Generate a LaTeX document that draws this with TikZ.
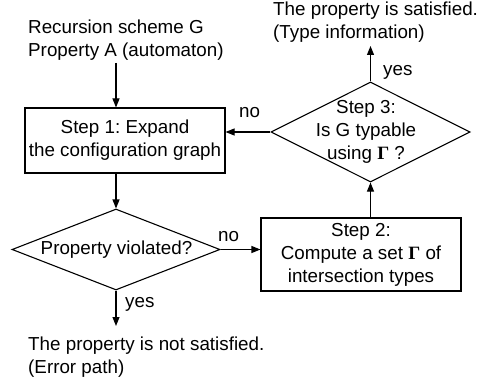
\documentclass[tikz,border=0pt]{standalone}
\usepackage{fontspec}
\setmainfont{Liberation Sans}
\newfontfamily\serifg{Liberation Serif}
\usetikzlibrary{shapes.geometric,arrows.meta}
\newcommand{\G}{{\serifg\bfseries Γ}}
\frenchspacing
\begin{document}
\begin{tikzpicture}[x=1pt,y=-1pt,
  every node/.style={font=\fontsize{18.8}{23}\selectfont},
  stepbox/.style={draw,line width=1.1pt,rectangle,inner sep=0pt,align=center},
  decision/.style={draw,line width=1.1pt,diamond,inner sep=0pt},
  txt/.style={align=left,inner sep=0pt},
  lab/.style={inner sep=0pt},
  conn/.style={line width=1.1pt,-{Triangle[length=9pt,width=7pt]}}]
\useasboundingbox (0,0) rectangle (479,385);
\node[txt,anchor=west] (in) at (28,40.5) {Recursion scheme G\\Property A (automaton)};
\node[stepbox,minimum width=200pt,minimum height=65pt] (s1) at (125,140.5) {Step 1: Expand\\the configuration graph};
\node[decision,minimum width=208pt,minimum height=81pt] (d1) at (116,249.5) {};
\node[lab] at (116.5,250) {Property violated?};
\node[stepbox,minimum width=200pt,minimum height=73pt] (s2) at (361,254.5) {Step 2:\\Compute a set \G{} of\\intersection types};
\node[decision,minimum width=199pt,minimum height=100pt] (d3) at (370.5,132) {};
\node[lab,align=center] at (366,132) {Step 3:\\Is G typable\\using \G{} ?};
\node[txt,anchor=west] (sat) at (273,22.5) {The property is satisfied.\\(Type information)};
\node[txt,anchor=west] (unsat) at (28,357.5) {The property is not satisfied.\\(Error path)};
\coordinate (tipok) at (370.5,46);
\coordinate (tipbad) at (116,326);
\coordinate (start) at (116,63);
\draw[conn] (start) -- (start |- s1.north);
\draw[conn] (s1.south -| d1.north) -- (d1.north);
\draw[conn] (d1.south) -- (tipbad);
\draw[conn] (d1.east) -- (d1.east -| s2.west);
\draw[conn] (s2.north -| d3.south) -- (d3.south);
\draw[conn] (d3.north) -- (tipok);
\draw[conn] (d3.west) -- (d3.west -| s1.east);
\node[lab,anchor=west] at (125,304) {yes};
\node[lab,anchor=west] at (383,72) {yes};
\node[lab,anchor=west] at (218,237) {no};
\node[lab,anchor=west] at (239,113) {no};
\end{tikzpicture}
\end{document}
